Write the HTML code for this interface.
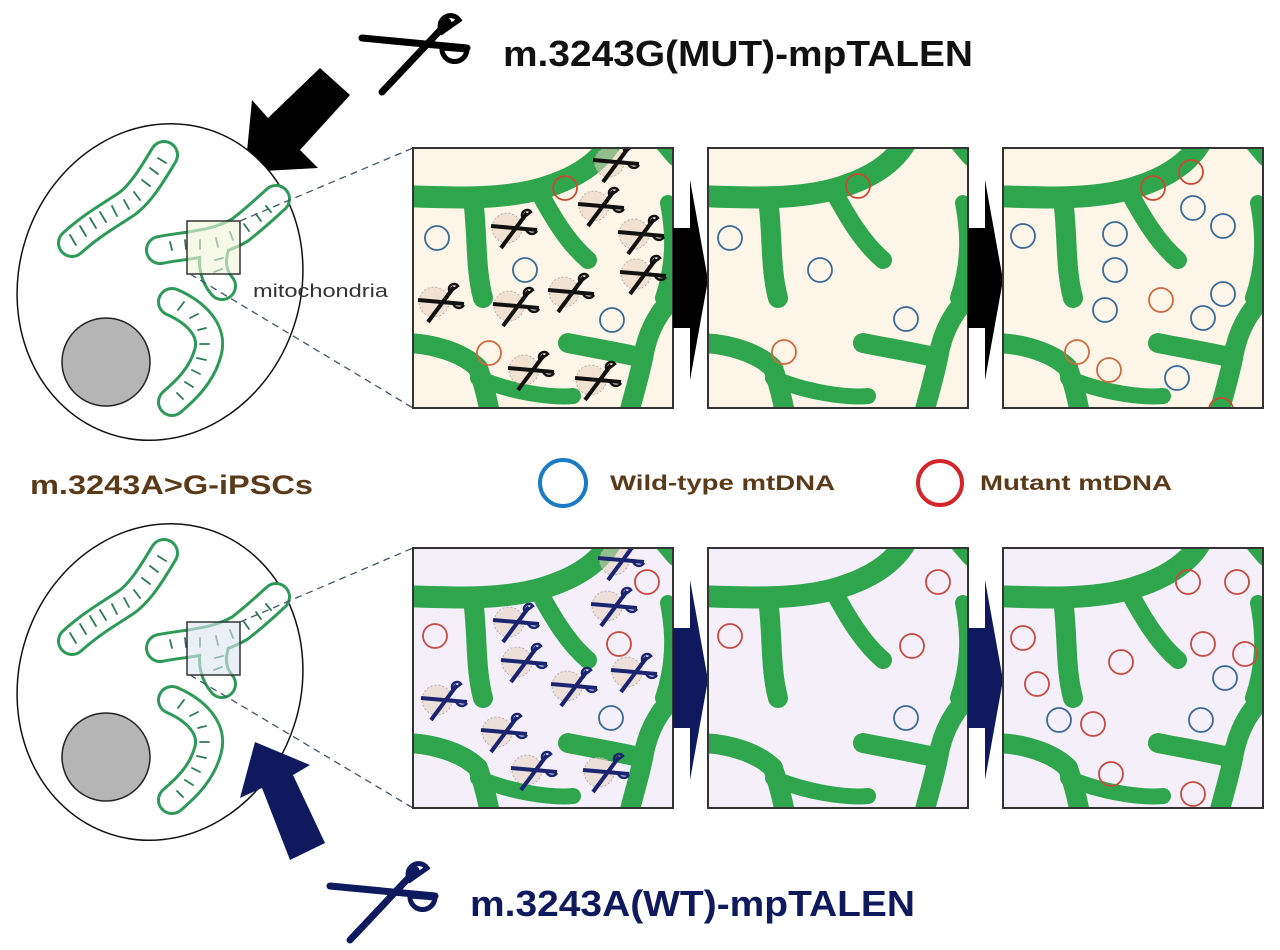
<!DOCTYPE html>
<html><head><meta charset="utf-8"><style>
body{margin:0;background:#fff}
svg{display:block}
text{font-family:"Liberation Sans",sans-serif;font-weight:bold}
</style></head><body>
<svg width="1280" height="950" viewBox="0 0 1280 950" xmlns="http://www.w3.org/2000/svg">
<defs>
<g id="sc">
 <line x1="0" y1="28" x2="105" y2="38" stroke-width="7" stroke-linecap="round"/>
 <line x1="20" y1="82" x2="86" y2="12" stroke-width="7" stroke-linecap="round"/>
 <path d="M80,22 A9,9 0 1 1 97,10 Z" fill="none" stroke-width="5"/>
 <path d="M80,38 A12,12 0 0 0 105,40 Z" fill="none" stroke-width="5"/>
</g>
<g id="ss">
 <circle cx="16" cy="18" r="15" fill="#e6d2c0" opacity="0.55" stroke="#666" stroke-width="0.8" stroke-dasharray="2 2"/>
 <line x1="0" y1="16" x2="46" y2="20" stroke-width="4"/>
 <line x1="10" y1="38" x2="36" y2="3" stroke-width="4"/>
 <path d="M32,8 A5,5 0 1 1 40,2 Z" fill="none" stroke-width="2.5"/>
 <path d="M35,19 A6,6 0 0 0 46,21" fill="none" stroke-width="2.5"/>
</g>
<g id="net" fill="none" stroke="#2fa64d" stroke-linecap="round" stroke-linejoin="round">
 <path d="M-10,48 C40,50 90,52 130,40 C170,28 190,10 200,-10" stroke-width="22"/>
 <path d="M60,50 C65,90 62,120 70,150" stroke-width="20"/>
 <path d="M125,42 C140,70 155,95 175,112" stroke-width="18"/>
 <path d="M255,55 C262,90 260,120 250,150" stroke-width="16"/>
 <path d="M245,-10 L262,10" stroke-width="16"/>
 <path d="M155,195 C180,200 210,205 230,210 C235,180 248,160 265,145" stroke-width="20"/>
 <path d="M230,210 C225,235 218,255 215,270" stroke-width="20"/>
 <path d="M-10,195 C20,195 50,205 65,220 C72,240 75,255 78,270" stroke-width="20"/>
 <path d="M65,230 C100,245 140,250 160,248" stroke-width="16"/>
</g>
<g id="mito" fill="none" stroke-linecap="round" stroke-linejoin="round">
 <g stroke="#2e9a58" stroke-width="30">
  <path d="M72,243 C92,225 110,215 125,205 C140,195 152,175 164,155"/>
  <path d="M160,250 C185,245 215,245 240,230 C258,216 268,206 276,199"/>
  <path d="M215,248 C210,265 215,278 222,286"/>
  <path d="M172,302 C195,312 214,330 208,352 C202,375 186,390 172,402"/>
 </g>
 <g stroke="#fff" stroke-width="24">
  <path d="M72,243 C92,225 110,215 125,205 C140,195 152,175 164,155"/>
  <path d="M160,250 C185,245 215,245 240,230 C258,216 268,206 276,199"/>
  <path d="M215,248 C210,265 215,278 222,286"/>
  <path d="M172,302 C195,312 214,330 208,352 C202,375 186,390 172,402"/>
 </g>
 <g stroke="#2e7a58" stroke-width="1.8">
  <path d="M70,235 l6,10 M80,226 l6,10 M90,218 l6,10 M100,212 l6,10 M112,206 l5,10 M124,200 l5,9 M134,192 l6,8 M142,180 l8,6 M150,168 l8,6 M158,158 l8,5"/>
  <path d="M170,242 l2,8 M185,240 l1,9 M200,240 l0,9 M216,238 l2,9 M230,232 l3,8 M244,224 l5,7 M256,214 l5,7 M266,206 l5,6 M215,260 l8,-2 M214,272 l8,-3"/>
  <path d="M178,310 l6,-8 M190,318 l8,-4 M198,330 l8,-2 M200,344 l9,0 M197,358 l9,2 M192,370 l8,4 M185,382 l8,5 M177,393 l6,6"/>
 </g>
</g>
<clipPath id="cp"><rect x="0" y="0" width="260" height="260"/></clipPath>
</defs>

<!-- top scissors & title -->
<use href="#sc" x="362" y="10" stroke="#000"/>
<text x="503" y="66" font-size="36" textLength="470" lengthAdjust="spacingAndGlyphs" fill="#111">m.3243G(MUT)-mpTALEN</text>
<polygon points="350,95 320,68 268,118 252,100 245,172 318,168 300,150" fill="#000"/>

<!-- top cell -->
<ellipse cx="160" cy="282" rx="141" ry="160" transform="rotate(18 160 282)" fill="#fff" stroke="#111" stroke-width="1.5"/>
<circle cx="106" cy="362" r="44" fill="#b5b5b5" stroke="#222" stroke-width="1.5"/>
<use href="#mito"/>
<rect x="187" y="221" width="53" height="53" fill="#f2f5d8" fill-opacity="0.6" stroke="#333" stroke-width="1.5"/>
<text x="253" y="297" font-size="18" textLength="135" lengthAdjust="spacingAndGlyphs" style="font-weight:normal" fill="#333">mitochondria</text>
<line x1="240" y1="221" x2="413" y2="148" stroke="#456" stroke-width="1.3" stroke-dasharray="7 5"/>
<line x1="190" y1="274" x2="413" y2="408" stroke="#456" stroke-width="1.3" stroke-dasharray="7 5"/>

<!-- top panels -->
<g transform="translate(413,148)">
 <rect width="260" height="260" fill="#fdf5e8"/>
 <g clip-path="url(#cp)"><use href="#net"/>
 <g fill="none" stroke-width="1.8">
  <circle cx="24" cy="90" r="12" stroke="#3a6a9a"/>
  <circle cx="112" cy="122" r="12" stroke="#3a6a9a"/>
  <circle cx="199" cy="172" r="12" stroke="#3a6a9a"/>
  <circle cx="152" cy="40" r="12" stroke="#c94a30"/>
  <circle cx="76" cy="205" r="12" stroke="#d06a40"/>
 </g>
 <g stroke="#111">
  <use href="#ss" x="180" y="-4"/><use href="#ss" x="165" y="40"/><use href="#ss" x="78" y="62"/>
  <use href="#ss" x="205" y="68"/><use href="#ss" x="207" y="108"/><use href="#ss" x="135" y="126"/>
  <use href="#ss" x="5" y="136"/><use href="#ss" x="80" y="140"/><use href="#ss" x="95" y="204"/><use href="#ss" x="162" y="214"/>
 </g></g>
 <rect width="260" height="260" fill="none" stroke="#333" stroke-width="2"/>
</g>
<polygon points="673,228 690,228 690,180 708,280 690,380 690,328 673,328" fill="#000"/>
<g transform="translate(708,148)">
 <rect width="260" height="260" fill="#fdf5e8"/>
 <g clip-path="url(#cp)"><use href="#net"/></g>
 <g fill="none" stroke-width="1.8">
  <circle cx="22" cy="90" r="12" stroke="#3a6a9a"/>
  <circle cx="112" cy="122" r="12" stroke="#3a6a9a"/>
  <circle cx="198" cy="171" r="12" stroke="#3a6a9a"/>
  <circle cx="150" cy="38" r="12" stroke="#c94a30"/>
  <circle cx="76" cy="204" r="12" stroke="#d06a40"/>
 </g>
 <rect width="260" height="260" fill="none" stroke="#333" stroke-width="2"/>
</g>
<polygon points="968,228 985,228 985,180 1003,280 985,380 985,328 968,328" fill="#000"/>
<g transform="translate(1003,148)">
 <rect width="260" height="260" fill="#fdf5e8"/>
 <g clip-path="url(#cp)"><use href="#net"/>
 <g fill="none" stroke-width="1.8">
  <circle cx="20" cy="88" r="12" stroke="#3a6a9a"/><circle cx="112" cy="86" r="12" stroke="#3a6a9a"/>
  <circle cx="112" cy="122" r="12" stroke="#3a6a9a"/><circle cx="190" cy="60" r="12" stroke="#3a6a9a"/>
  <circle cx="220" cy="78" r="12" stroke="#3a6a9a"/><circle cx="102" cy="162" r="12" stroke="#3a6a9a"/>
  <circle cx="200" cy="170" r="12" stroke="#3a6a9a"/><circle cx="220" cy="146" r="12" stroke="#3a6a9a"/>
  <circle cx="174" cy="230" r="12" stroke="#3a6a9a"/>
  <circle cx="150" cy="40" r="12" stroke="#c94a30"/><circle cx="188" cy="24" r="12" stroke="#c94a30"/>
  <circle cx="158" cy="152" r="12" stroke="#d06a40"/><circle cx="74" cy="204" r="12" stroke="#d06a40"/>
  <circle cx="106" cy="222" r="12" stroke="#d06a40"/><circle cx="218" cy="262" r="12" stroke="#c94a30"/>
 </g></g>
 <rect width="260" height="260" fill="none" stroke="#333" stroke-width="2"/>
</g>

<!-- legend -->
<text x="30" y="494" font-size="27" textLength="283" lengthAdjust="spacingAndGlyphs" fill="#5b3a1a">m.3243A&gt;G-iPSCs</text>
<circle cx="563" cy="483" r="23" fill="none" stroke="#1b7bc6" stroke-width="4"/>
<text x="610" y="490" font-size="21" textLength="225" lengthAdjust="spacingAndGlyphs" fill="#5b3a1a">Wild-type mtDNA</text>
<circle cx="940" cy="483" r="22" fill="none" stroke="#d4262a" stroke-width="4"/>
<text x="980" y="490" font-size="21" textLength="192" lengthAdjust="spacingAndGlyphs" fill="#5b3a1a">Mutant mtDNA</text>

<!-- bottom cell -->
<ellipse cx="160" cy="682" rx="141" ry="160" transform="rotate(18 160 682)" fill="#fff" stroke="#111" stroke-width="1.5"/>
<circle cx="106" cy="757" r="44" fill="#b5b5b5" stroke="#222" stroke-width="1.5"/>
<use href="#mito" y="398"/>
<rect x="187" y="622" width="53" height="53" fill="#dde6f2" fill-opacity="0.6" stroke="#333" stroke-width="1.5"/>
<line x1="240" y1="622" x2="413" y2="548" stroke="#456" stroke-width="1.3" stroke-dasharray="7 5"/>
<line x1="190" y1="675" x2="413" y2="808" stroke="#456" stroke-width="1.3" stroke-dasharray="7 5"/>

<!-- bottom arrow -->
<polygon points="290,860 325,843 293,775 310,765 255,742 240,798 262,788" fill="#0f1a5e"/>
<use href="#sc" x="330" y="858" stroke="#0f1a5e"/>
<text x="470" y="916" font-size="36" textLength="445" lengthAdjust="spacingAndGlyphs" fill="#0f1a5e">m.3243A(WT)-mpTALEN</text>

<!-- bottom panels -->
<g transform="translate(413,548)">
 <rect width="260" height="260" fill="#f4eff8"/>
 <g clip-path="url(#cp)"><use href="#net"/>
 <g fill="none" stroke-width="1.8">
  <circle cx="22" cy="88" r="12" stroke="#c94a40"/><circle cx="234" cy="34" r="12" stroke="#c94a40"/>
  <circle cx="206" cy="96" r="12" stroke="#c94a40"/><circle cx="198" cy="170" r="12" stroke="#3a6a9a"/>
 </g>
 <g stroke="#1a2470">
  <use href="#ss" x="185" y="-6"/><use href="#ss" x="178" y="40"/><use href="#ss" x="80" y="56"/>
  <use href="#ss" x="88" y="96"/><use href="#ss" x="198" y="106"/><use href="#ss" x="138" y="120"/>
  <use href="#ss" x="8" y="134"/><use href="#ss" x="68" y="166"/><use href="#ss" x="98" y="204"/><use href="#ss" x="170" y="206"/>
 </g></g>
 <rect width="260" height="260" fill="none" stroke="#333" stroke-width="2"/>
</g>
<polygon points="673,628 690,628 690,580 708,680 690,780 690,728 673,728" fill="#0f1a5e"/>
<g transform="translate(708,548)">
 <rect width="260" height="260" fill="#f4eff8"/>
 <g clip-path="url(#cp)"><use href="#net"/></g>
 <g fill="none" stroke-width="1.8">
  <circle cx="22" cy="88" r="12" stroke="#c94a40"/><circle cx="230" cy="34" r="12" stroke="#c94a40"/>
  <circle cx="204" cy="98" r="12" stroke="#c94a40"/><circle cx="198" cy="170" r="12" stroke="#3a6a9a"/>
 </g>
 <rect width="260" height="260" fill="none" stroke="#333" stroke-width="2"/>
</g>
<polygon points="968,628 985,628 985,580 1003,680 985,780 985,728 968,728" fill="#0f1a5e"/>
<g transform="translate(1003,548)">
 <rect width="260" height="260" fill="#f4eff8"/>
 <g clip-path="url(#cp)"><use href="#net"/>
 <g fill="none" stroke-width="1.8">
  <circle cx="20" cy="90" r="12" stroke="#c94a40"/><circle cx="34" cy="136" r="12" stroke="#c94a40"/>
  <circle cx="118" cy="114" r="12" stroke="#c94a40"/><circle cx="90" cy="176" r="12" stroke="#c94a40"/>
  <circle cx="185" cy="34" r="12" stroke="#c94a40"/><circle cx="234" cy="34" r="12" stroke="#c94a40"/>
  <circle cx="200" cy="96" r="12" stroke="#c94a40"/><circle cx="242" cy="106" r="12" stroke="#c94a40"/>
  <circle cx="108" cy="226" r="12" stroke="#c94a40"/><circle cx="190" cy="246" r="12" stroke="#c94a40"/>
  <circle cx="56" cy="172" r="12" stroke="#3a6a9a"/><circle cx="198" cy="172" r="12" stroke="#3a6a9a"/>
  <circle cx="222" cy="130" r="12" stroke="#3a6a9a"/>
 </g></g>
 <rect width="260" height="260" fill="none" stroke="#333" stroke-width="2"/>
</g>
</svg>
</body></html>
